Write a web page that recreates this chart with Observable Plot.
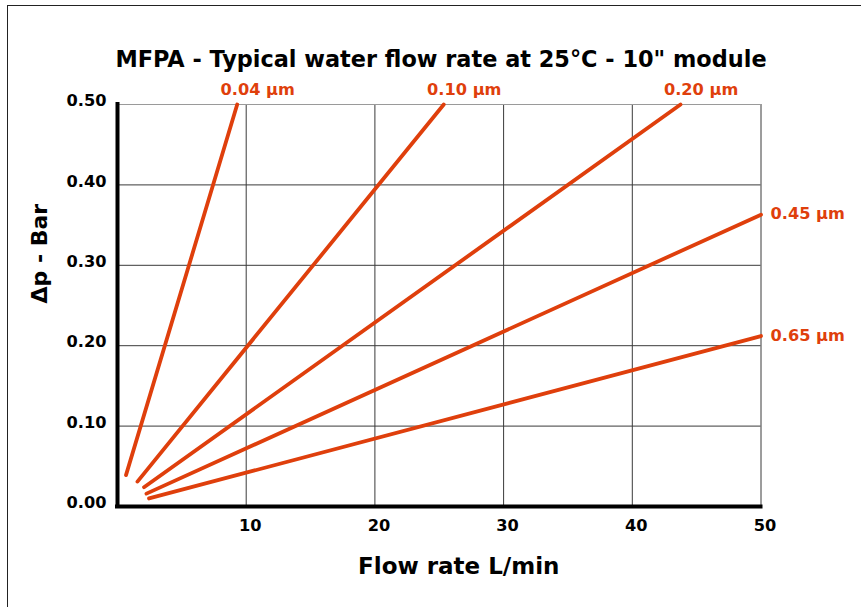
<!DOCTYPE html>
<html>
<head>
<meta charset="utf-8">
<script src="https://cdn.jsdelivr.net/npm/d3@7"></script>
<script src="https://cdn.jsdelivr.net/npm/@observablehq/plot@0.6"></script>
<style>
  html, body { margin: 0; padding: 0; background: #fff; overflow: hidden; }
  #wrap { position: relative; width: 861px; height: 607px; }
  #frame { position: absolute; left: 7px; top: 5px; width: 900px; height: 700px;
           border-top: 1.5px solid #222; border-left: 1.5px solid #222; pointer-events: none; }
  #chart svg { display: block; }
</style>
</head>
<body>
<div id="wrap"><div id="chart"></div><div id="frame"></div></div>
<script>
// Data
const poreSizes = ["0.04 µm", "0.10 µm", "0.20 µm", "0.45 µm", "0.65 µm"];
const flowStart = [0.66, 1.55, 2.06, 2.25, 2.45];      // L/min
const dpStart   = [0.039, 0.031, 0.024, 0.016, 0.010]; // bar
const flowEnd   = [9.3, 25.35, 43.75, 50, 50];         // L/min
const dpEnd     = [0.50, 0.50, 0.50, 0.363, 0.212];    // bar

const xTicks = [10, 20, 30, 40, 50];
const yTicks = [0.00, 0.10, 0.20, 0.30, 0.40, 0.50];

const titleText = "MFPA - Typical water flow rate at 25°C - 10\" module";
const xLabel = "Flow rate L/min";
const yLabel = "Δp - Bar";

const series = poreSizes.map((name, i) => ({
  name, x1: flowStart[i], y1: dpStart[i], x2: flowEnd[i], y2: dpEnd[i]
}));
const topLabels = series.filter(d => d.y2 >= 0.5);
const rightLabels = series.filter(d => d.y2 < 0.5);

const red = "#df3f0c";
const font = "DejaVu Sans, Verdana, sans-serif";

const chart = Plot.plot({
  width: 861,
  height: 607,
  marginLeft: 117,
  marginRight: 100.5,
  marginTop: 104,
  marginBottom: 101,
  style: { fontFamily: font, fontWeight: "bold", background: "#fff", overflow: "visible" },
  x: { domain: [0, 50], axis: null },
  y: { domain: [0, 0.5], axis: null },
  marks: [
    // grid
    Plot.ruleX(xTicks, { stroke: "#3a3a3a", strokeWidth: 1 }),
    Plot.ruleY(yTicks.filter(d => d > 0 && d < 0.5), { stroke: "#3a3a3a", strokeWidth: 1 }),
    Plot.ruleY([0.5], { stroke: "#9a9a9a", strokeWidth: 1 }),
    // axes lines
    Plot.ruleX([0], { stroke: "#000", strokeWidth: 4, strokeLinecap: "square" }),
    Plot.ruleY([0], { stroke: "#000", strokeWidth: 4, strokeLinecap: "square" }),
    // tick labels
    Plot.text(yTicks, {
      y: d => d, text: d => d.toFixed(2), frameAnchor: "left", textAnchor: "end",
      dx: -11, dy: -3.5, fontSize: 16.2, fontWeight: "bold", fill: "#000"
    }),
    Plot.text(xTicks, {
      x: d => d, text: d => String(d), frameAnchor: "bottom",
      dx: 4, dy: 24.5, fontSize: 16.2, fontWeight: "bold", fill: "#000"
    }),
    // series lines
    Plot.link(series, {
      x1: "x1", y1: "y1", x2: "x2", y2: "y2",
      stroke: red, strokeWidth: 3.8, strokeLinecap: "round"
    }),
    // series labels
    Plot.text(topLabels, {
      x: "x2", y: "y2", text: "name", textAnchor: "middle",
      dx: 20.5, dy: -15, fontSize: 16.2, fontWeight: "bold", fill: red
    }),
    Plot.text(rightLabels, {
      x: "x2", y: "y2", text: "name", textAnchor: "start",
      dx: 9.5, dy: -0.5, fontSize: 16.2, fontWeight: "bold", fill: red
    }),
    // title and axis labels
    Plot.text([titleText], {
      text: d => d, frameAnchor: "top", dx: 1.75, dy: -53.3,
      fontSize: 22.4, fontWeight: "bold", fill: "#000"
    }),
    Plot.text([xLabel], {
      text: d => d, frameAnchor: "bottom", dx: 19.5, dy: 67.3,
      fontSize: 23, fontWeight: "bold", fill: "#000"
    }),
    Plot.text([yLabel], {
      text: d => d, frameAnchor: "left", dx: -77.8, dy: -2, rotate: -90,
      fontSize: 22, fontWeight: "bold", fill: "#000"
    })
  ]
});
document.getElementById("chart").appendChild(chart);
</script>
</body>
</html>
